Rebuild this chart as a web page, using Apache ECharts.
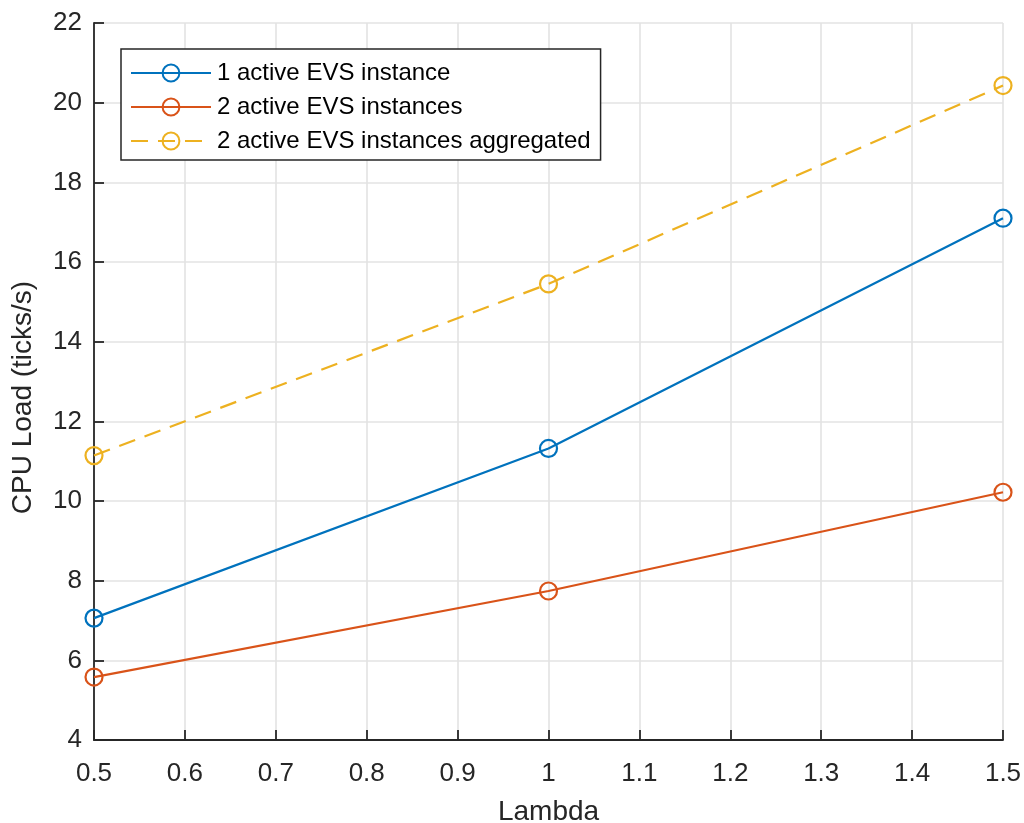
<!DOCTYPE html>
<html>
<head>
<meta charset="utf-8">
<script src="https://cdn.jsdelivr.net/npm/echarts@6/dist/echarts.min.js"></script>
<style>
  html, body { margin: 0; padding: 0; background: #fff; }
  #chart { width: 1024px; height: 823px; }
</style>
</head>
<body>
<div id="chart"></div>
<script>
// data
var lambdas = [0.5, 1.0, 1.5];
var oneInstance = [7.06, 11.32, 17.10];
var twoInstances = [5.58, 7.74, 10.22];
var twoAggregated = [11.14, 15.45, 20.43];
var seriesNames = ['1 active EVS instance', '2 active EVS instances', '2 active EVS instances aggregated'];
var colors = ['#0072bd', '#d95319', '#edb120'];

function pairs(xs, ys) {
    var out = [];
    for (var i = 0; i < xs.length; i++) out.push([xs[i], ys[i]]);
    return out;
}

var axisColor = '#262626';
var font = 'Liberation Sans, Arial, Helvetica, sans-serif';

var myChart = echarts.init(document.getElementById('chart'));

function lineSeries(idx, data, dashed) {
    return {
        name: seriesNames[idx],
        type: 'line',
        data: data,
        symbol: 'circle',
        symbolSize: 17,
        showAllSymbol: true,
        itemStyle: { color: 'rgba(255,255,255,0)', borderColor: colors[idx], borderWidth: 2.2 },
        lineStyle: { color: colors[idx], width: 2.2, type: dashed ? [17, 10] : 'solid' },
        z: 3
    };
}

var option = {
    backgroundColor: '#fff',
    animation: false,
    textStyle: { fontFamily: font },
    grid: { left: 94, right: 21, top: 23, bottom: 83, containLabel: false, outerBoundsMode: 'none' },
    legend: {
        orient: 'vertical',
        left: 121,
        top: 49,
        data: seriesNames,
        backgroundColor: '#fff',
        borderColor: axisColor,
        borderWidth: 1.5,
        padding: [12, 10, 7, 9],
        itemWidth: 80,
        itemHeight: 21,
        itemGap: 10,
        textStyle: { fontSize: 24, lineHeight: 24, color: '#000', fontFamily: font, padding: [0, 0, 0, 1] }
    },
    xAxis: {
        type: 'value',
        min: 0.5,
        max: 1.5,
        interval: 0.1,
        name: 'Lambda',
        nameLocation: 'middle',
        nameGap: 58,
        nameTextStyle: { fontSize: 28, color: axisColor, fontFamily: font },
        axisLine: { show: true, lineStyle: { color: axisColor, width: 1.8 } },
        axisTick: { show: true, inside: true, length: 10, lineStyle: { color: axisColor, width: 1.8 } },
        axisLabel: {
            fontSize: 26, color: axisColor, margin: 21, fontFamily: font,
            formatter: function (v) { return String(Math.round(v * 10) / 10); }
        },
        splitLine: { show: true, lineStyle: { color: '#e3e3e3', width: 1.6 } }
    },
    yAxis: {
        type: 'value',
        min: 4,
        max: 22,
        interval: 2,
        name: 'CPU Load (ticks/s)',
        nameLocation: 'middle',
        nameGap: 57,
        nameTextStyle: { fontSize: 28, color: axisColor, fontFamily: font, padding: [0, 32, 0, 0] },
        axisLine: { show: true, lineStyle: { color: axisColor, width: 1.8 } },
        axisTick: { show: true, inside: true, length: 10, lineStyle: { color: axisColor, width: 1.8 } },
        axisLabel: { fontSize: 26, color: axisColor, margin: 12, fontFamily: font },
        splitLine: { show: true, lineStyle: { color: '#e3e3e3', width: 1.6 } }
    },
    series: [
        lineSeries(0, pairs(lambdas, oneInstance), false),
        lineSeries(1, pairs(lambdas, twoInstances), false),
        lineSeries(2, pairs(lambdas, twoAggregated), true)
    ]
};

myChart.setOption(option);
</script>
</body>
</html>
